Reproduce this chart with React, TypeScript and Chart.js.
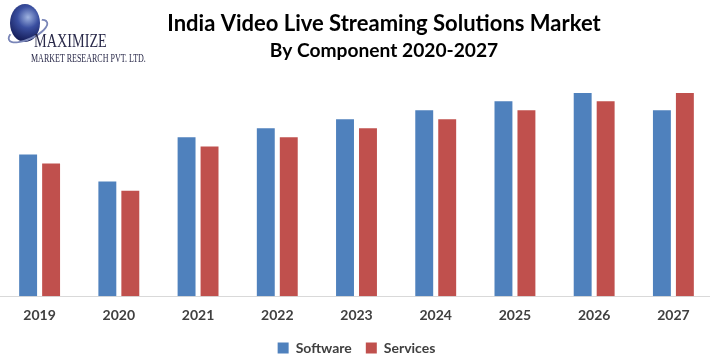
import React, { useEffect, useRef } from "react";
import { Chart, registerables } from "chart.js";

Chart.register(...registerables);

const years = ["2019", "2020", "2021", "2022", "2023", "2024", "2025", "2026", "2027"];
const software = [141, 114, 158, 167, 176, 185, 194, 202, 185];
const services = [132, 105, 149, 158, 167, 176, 185, 194, 202];
const titleLine1 = "India Video Live Streaming Solutions Market";
const titleLine2 = "By Component 2020-2027";
const logoMain = "MAXIMIZE";
const logoSub = "MARKET RESEARCH PVT. LTD.";

const titlePlugin = {
  id: "twoLineTitle",
  afterDraw(chart: any) {
    const ctx = chart.ctx;
    ctx.save();
    ctx.fillStyle = "#000000";
    ctx.textAlign = "center";
    ctx.textBaseline = "alphabetic";
    ctx.font = "bold 22px Lato";
    ctx.fillText(titleLine1, 384, 31);
    ctx.font = "bold 19.2px Lato";
    ctx.fillText(titleLine2, 384, 57);
    ctx.restore();
  },
};

export default function App() {
  const ref = useRef<HTMLCanvasElement | null>(null);

  useEffect(() => {
    document.body.style.margin = "0";
    const canvas = ref.current;
    if (!canvas) return;
    const chart = new Chart(canvas, {
      type: "bar",
      data: {
        labels: years,
        datasets: [
          { label: "Software", data: software, backgroundColor: "#4F81BD" },
          { label: "Services", data: services, backgroundColor: "#C0504D" },
        ],
      },
      options: {
        animation: false,
        responsive: false,
        maintainAspectRatio: false,
        layout: { padding: { left: 0, right: 0, top: 75, bottom: 0 } },
        datasets: {
          bar: { categoryPercentage: 0.58, barPercentage: 0.78 },
        },
        plugins: {
          title: { display: false },
          legend: {
            position: "bottom",
            labels: {
              boxWidth: 11,
              boxHeight: 11,
              padding: 14,
              color: "#404040",
              font: { family: "Lato", size: 14, weight: "bold" },
            },
          },
          tooltip: { enabled: false },
        },
        scales: {
          x: {
            grid: { display: false },
            border: { display: true, color: "#d9d9d9", width: 1 },
            ticks: {
              color: "#404040",
              font: { family: "Lato", size: 14, weight: "bold" },
              padding: 3,
            },
          },
          y: {
            display: false,
            min: 0,
            max: 220,
          },
        },
      },
      plugins: [titlePlugin],
    });
    return () => chart.destroy();
  }, []);

  return (
    <div style={{ position: "relative", width: 710, height: 359, overflow: "hidden", background: "#fff" }}>
      <canvas ref={ref} width={713} height={365} style={{ position: "absolute", left: 0, top: 0 }} />
      <div
        style={{
          position: "absolute",
          left: 10,
          top: 4,
          width: 30,
          height: 38,
          borderRadius: "50%",
          background: "radial-gradient(circle at 60% 35%, #9fb3e0 0%, #3a4fa0 35%, #18215e 75%, #0c1240 100%)",
        }}
      />
      <div
        style={{
          position: "absolute",
          left: 6,
          top: 22,
          width: 40,
          height: 14,
          borderRadius: "50%",
          border: "2px solid #7a86b8",
          borderTopColor: "transparent",
          transform: "rotate(-25deg)",
        }}
      />
      <div
        style={{
          position: "absolute",
          left: 34,
          top: 31,
          fontFamily: "'Liberation Serif', serif",
          fontSize: 19,
          lineHeight: "20px",
          color: "#2a2a4a",
          transform: "scaleX(0.75)",
          transformOrigin: "left top",
          whiteSpace: "nowrap",
        }}
      >
        {logoMain}
      </div>
      <div
        style={{
          position: "absolute",
          left: 31,
          top: 52,
          fontFamily: "'Liberation Serif', serif",
          fontSize: 12,
          lineHeight: "12px",
          color: "#2a2a4a",
          transform: "scaleX(0.667)",
          transformOrigin: "left top",
          whiteSpace: "nowrap",
        }}
      >
        {logoSub}
      </div>
    </div>
  );
}
